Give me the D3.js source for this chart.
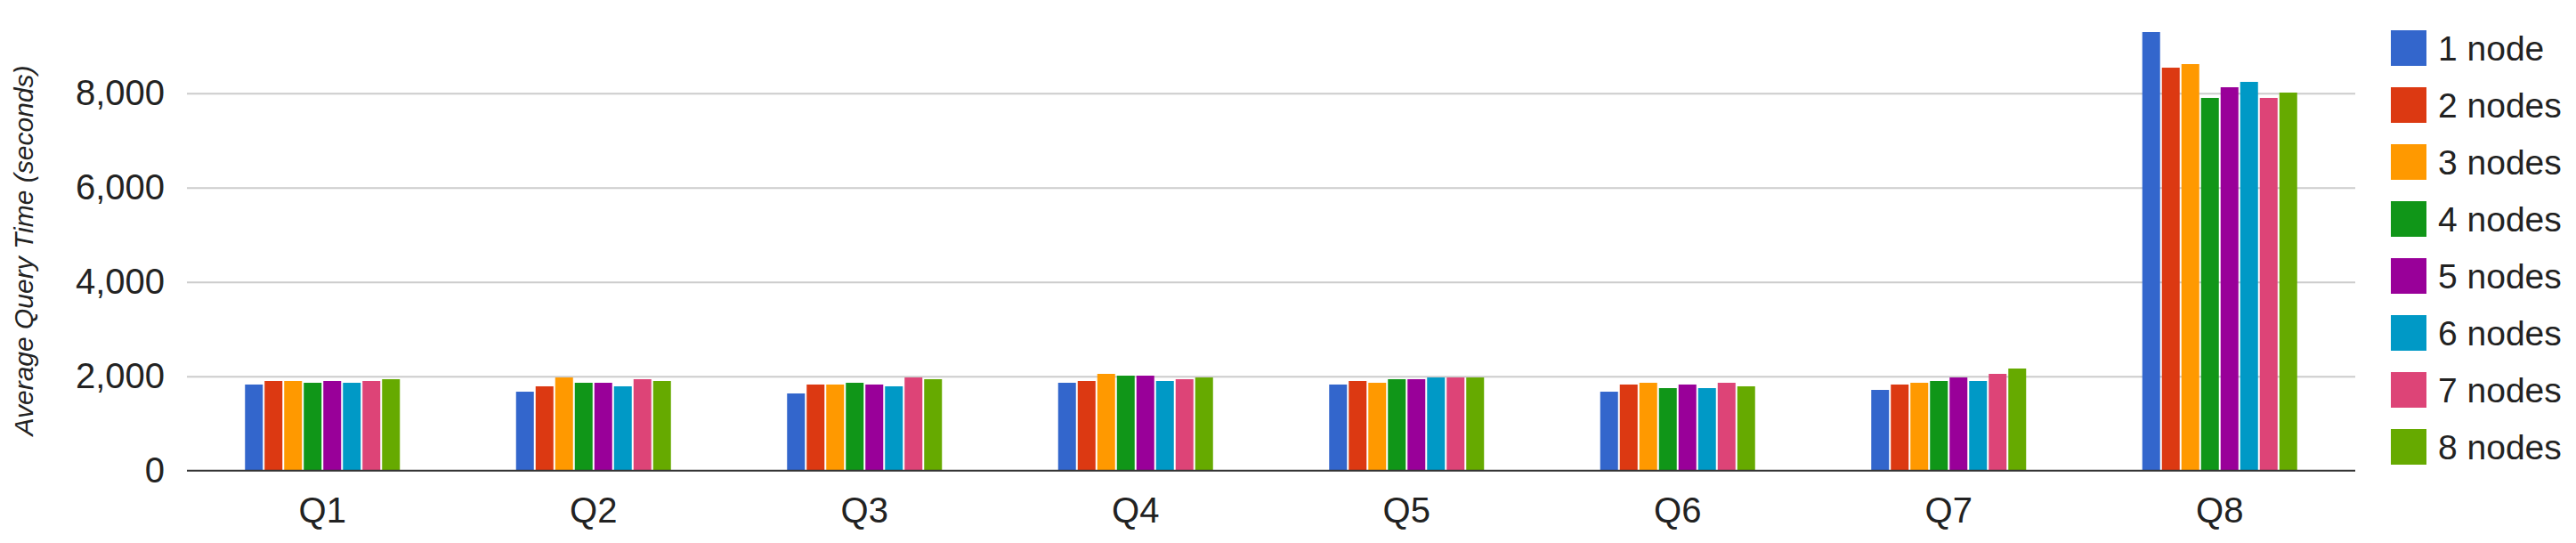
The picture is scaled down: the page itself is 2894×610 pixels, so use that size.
<!DOCTYPE html>
<html>
<head>
<meta charset="utf-8">
<script src="https://cdn.jsdelivr.net/npm/d3@7"></script>
<style>
  body { margin: 0; background: #fff; }
  svg text { font-family: Arial, "Liberation Sans", sans-serif; fill: #222; }
</style>
</head>
<body>
<script>
// queries on the x axis, one series per cluster size
var categories = ["Q1", "Q2", "Q3", "Q4", "Q5", "Q6", "Q7", "Q8"];
var seriesNames = ["1 node", "2 nodes", "3 nodes", "4 nodes", "5 nodes", "6 nodes", "7 nodes", "8 nodes"];
var colors = ["#3366cc", "#dc3912", "#ff9900", "#109618", "#990099", "#0099c6", "#dd4477", "#66aa00"];

// average query time in seconds, Q1..Q8
var node1 = [1825, 1673, 1636, 1862, 1825, 1673, 1711, 9296];
var node2 = [1900, 1787, 1825, 1900, 1900, 1825, 1825, 8541];
var node3 = [1900, 1975, 1825, 2051, 1862, 1862, 1862, 8617];
var node4 = [1862, 1862, 1862, 2013, 1938, 1749, 1900, 7900];
var node5 = [1900, 1862, 1825, 2013, 1938, 1825, 1975, 8126];
var node6 = [1862, 1787, 1787, 1900, 1975, 1749, 1900, 8240];
var node7 = [1900, 1938, 1975, 1938, 1975, 1862, 2051, 7900];
var node8 = [1938, 1900, 1938, 1975, 1975, 1787, 2164, 8013];

var yTicks = [0, 2000, 4000, 6000, 8000];

var series = [node1, node2, node3, node4, node5, node6, node7, node8];

var chartW = 2894, chartH = 610;
var plotLeft = 210, plotRight = 2646, plotTop = 104.7, plotBottom = 528.7;
var groupWidth = 174;

var svg = d3.select("body").append("svg").attr("width", chartW).attr("height", chartH);

var x0 = d3.scaleBand().domain(categories).range([plotLeft, plotRight]);
var bw = x0.bandwidth();
var x1 = d3.scaleBand().domain(seriesNames)
    .range([(bw - groupWidth) / 2, (bw + groupWidth) / 2])
    .paddingInner(2 / 22);
var y = d3.scaleLinear().domain([0, 8000]).range([plotBottom, plotTop]);

// gridlines + tick labels
var yAxis = svg.append("g")
    .attr("transform", "translate(" + plotLeft + ",0)")
    .call(d3.axisLeft(y).tickValues(yTicks).tickSize(-(plotRight - plotLeft)).tickPadding(25).tickFormat(d3.format(",")));
yAxis.select(".domain").remove();
yAxis.selectAll(".tick line").attr("stroke", "#cccccc").attr("stroke-width", 2)
    .filter(function(d) { return d === 0; }).remove();
yAxis.selectAll(".tick text").attr("font-size", 40).style("fill", "#222");

// bars
var groups = svg.selectAll("g.cat").data(categories).enter().append("g")
    .attr("class", "cat")
    .attr("transform", function(d) { return "translate(" + x0(d) + ",0)"; });

groups.selectAll("rect")
    .data(function(d, i) {
      return seriesNames.map(function(s, j) { return { name: s, value: series[j][i], color: colors[j] }; });
    })
    .enter().append("rect")
    .attr("x", function(d) { return x1(d.name); })
    .attr("width", x1.bandwidth())
    .attr("y", function(d) { return y(d.value); })
    .attr("height", function(d) { return y(0) - y(d.value); })
    .attr("fill", function(d) { return d.color; });

// baseline
svg.append("line")
    .attr("x1", plotLeft).attr("x2", plotRight)
    .attr("y1", y(0)).attr("y2", y(0))
    .attr("stroke", "#333333").attr("stroke-width", 2);

// category labels
var xAxis = svg.append("g")
    .attr("transform", "translate(0," + y(0) + ")")
    .call(d3.axisBottom(x0).tickSize(0).tickPadding(30));
xAxis.select(".domain").remove();
xAxis.selectAll(".tick text").attr("font-size", 40).style("fill", "#222");

// y axis title
svg.append("text")
    .attr("transform", "translate(37,281.5) rotate(-90)")
    .attr("text-anchor", "middle")
    .attr("font-size", 30)
    .attr("font-style", "italic")
    .text("Average Query Time (seconds)");

// legend
var legend = svg.selectAll("g.legend").data(seriesNames).enter().append("g")
    .attr("class", "legend")
    .attr("transform", function(d, i) { return "translate(2686," + (34 + i * 64) + ")"; });
legend.append("rect")
    .attr("width", 40).attr("height", 40)
    .attr("fill", function(d, i) { return colors[i]; });
legend.append("text")
    .attr("x", 53).attr("y", 20).attr("dy", "0.35em")
    .attr("font-size", 39)
    .text(function(d) { return d; });
</script>
</body>
</html>
